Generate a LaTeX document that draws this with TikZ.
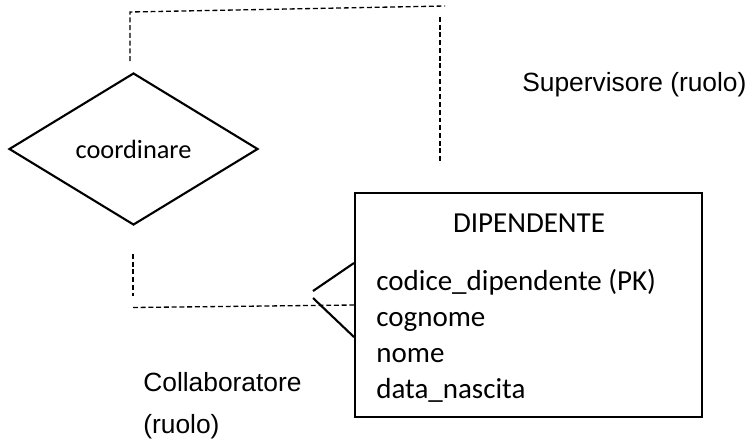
\documentclass[tikz,border=0pt]{standalone}
\usepackage{fontspec}
\setmainfont{Carlito}
\newfontfamily\rolefont{Liberation Sans}
\usepackage{tikz}
\usetikzlibrary{shapes.geometric, positioning}
\tikzstyle{relationship} = [diamond, minimum width=4.98cm, minimum height=3.04cm, inner sep=0pt, draw=black, line width=1.2pt, font=\fontsize{15}{18}\selectfont]
\tikzstyle{entity} = [rectangle, minimum width=6.94cm, minimum height=4.48cm, draw=black, line width=1.2pt]
\tikzstyle{entitytitle} = [inner sep=0pt, anchor=base, font=\fontsize{16.5}{20}\selectfont]
\tikzstyle{attribute} = [inner sep=0pt, text height=12.4pt, text depth=4.1pt, font=\fontsize{16.5}{20}\selectfont]
\tikzstyle{rolelabel} = [inner sep=0pt, text height=11.2pt, text depth=3.8pt, font=\rolefont\fontsize{15}{18}\selectfont]
\tikzstyle{connect} = [line width=1.2pt,-]
\tikzstyle{dashconnect} = [line width=0.75pt, dash pattern=on 2.8pt off 1.6pt, black]

\begin{document}
\begin{tikzpicture}[x=0.02cm, y=-0.02cm, node distance=3.57pt]
  \useasboundingbox (0,0) rectangle (749,443);

  \node (coordinare) [relationship] at (133.5,149) {coordinare};
  \node (dipendente) [entity] at (528.5,305) {};
  \node (titolo) [entitytitle] at (529,232) {DIPENDENTE};
  \node (codice) [attribute, anchor=base west] at (376,290.7) {codice\_dipendente (PK)};
  \node (cognome) [attribute, below=of codice.south west, anchor=north west] {cognome};
  \node (nome) [attribute, below=of cognome.south west, anchor=north west] {nome};
  \node (nascita) [attribute, below=of nome.south west, anchor=north west] {data\_nascita};
  \node (supervisore) [rolelabel, anchor=base west] at (522,91.7) {Supervisore (ruolo)};
  \node (collaboratore) [rolelabel, anchor=base west] at (143,391.7) {Collaboratore};
  \node (collruolo) [rolelabel, below=8.6pt of collaboratore.south west, anchor=north west] {(ruolo)};

  % free ends of the dashed role lines
  \coordinate (sup1) at (130,61);
  \coordinate (sup2) at (130,12);
  \coordinate (sup3) at (445,6);
  \coordinate (sup4) at (440,17);
  \coordinate (sup5) at (440,162);
  \coordinate (coll1) at (133,254);
  \coordinate (coll2) at (133,296);
  \coordinate (coll3) at (133,307.5);
  \coordinate (piede1) at (313,291);
  \coordinate (piede2) at (313,298);

  \draw [dashconnect] (sup1) -- (sup2) -- (sup3);
  \draw [dashconnect] (sup4) -- (sup5);
  \draw [dashconnect] (coll1) -- (coll2);
  \draw [dashconnect] (coll3) -- (dipendente.west);
  \draw [connect] (piede1) -- ([yshift=0.84cm]dipendente.west);
  \draw [connect] (piede2) -- ([yshift=-0.64cm]dipendente.west);

\end{tikzpicture}
\end{document}
